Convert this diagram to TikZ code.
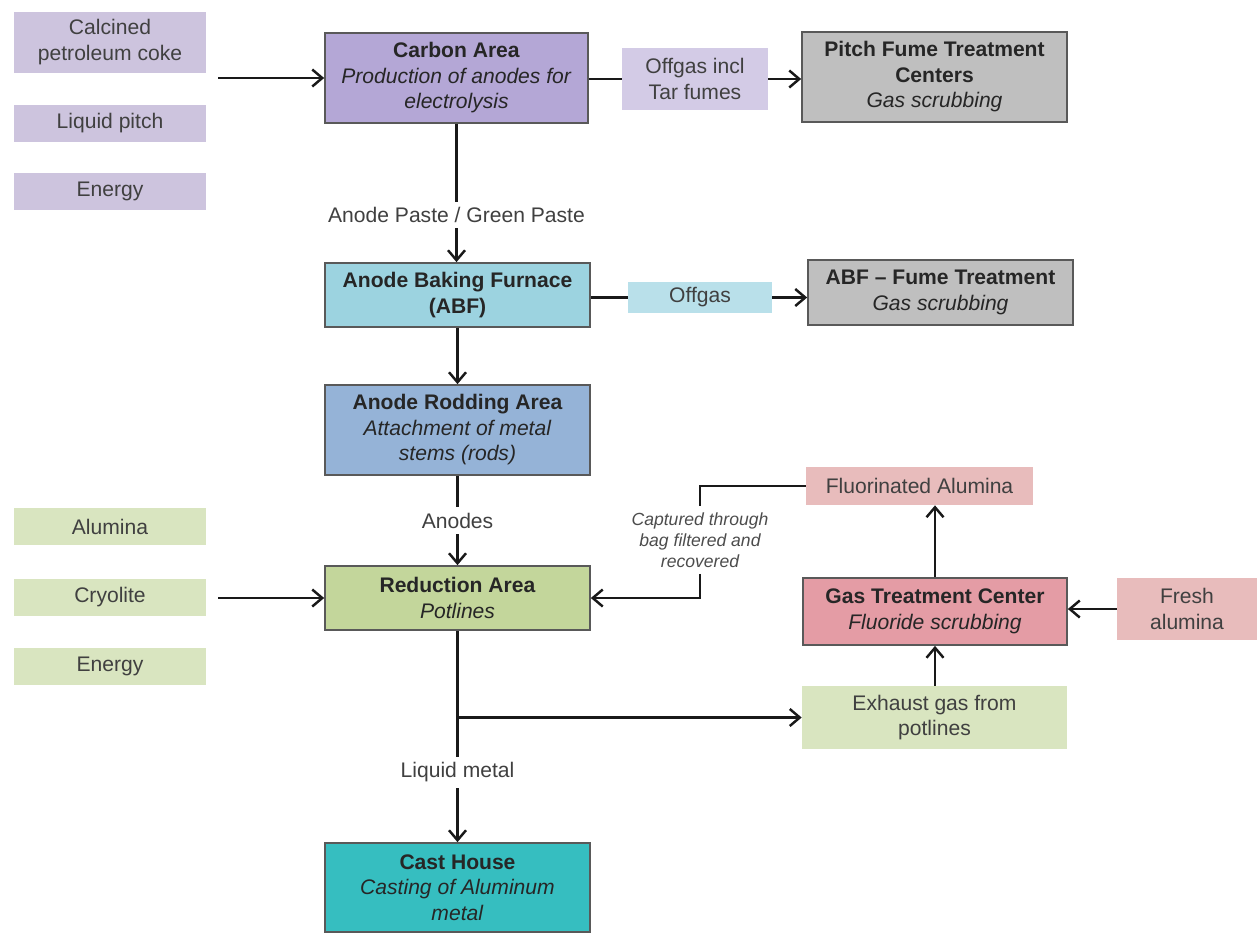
\documentclass[tikz,border=0pt]{standalone}
\usepackage{fontspec}
\setmainfont{Liberation Sans}
\usetikzlibrary{arrows.meta,positioning}
\definecolor{inpurple}{HTML}{CDC4DE}
\definecolor{carbon}{HTML}{B4A7D6}
\definecolor{tarfume}{HTML}{D3CBE6}
\definecolor{scrub}{HTML}{BFBFBF}
\definecolor{baking}{HTML}{9CD3E0}
\definecolor{offgas}{HTML}{B9E0EA}
\definecolor{rodding}{HTML}{95B3D7}
\definecolor{reduct}{HTML}{C3D69B}
\definecolor{ingreen}{HTML}{D9E5C0}
\definecolor{fluor}{HTML}{E8BCBC}
\definecolor{gastreat}{HTML}{E49CA5}
\definecolor{casting}{HTML}{36BEC0}

\begin{document}
\begin{tikzpicture}[x=0.02cm,y=-0.02cm,
  every node/.style={font=\fontsize{12}{14.5}\selectfont},
  box/.style={draw=black!65,line width=1pt,minimum width=5.3cm,align=center,text=black!85},
  inp/.style={minimum width=3.84cm,minimum height=0.74cm,align=center,text=black!75},
  lbl/.style={fill=white,text=black!75,inner sep=3pt},
  arr/.style={-{Straight Barb[length=2mm,width=3.4mm]},line width=1.4pt,draw=black!90},
  ln/.style={line width=1.4pt,draw=black!90},
]
  \useasboundingbox (0,0) rectangle (1257,934);

  \node[inp,fill=inpurple,minimum height=1.22cm] (coke) at (110,42) {Calcined\\petroleum coke};
  \node[inp,fill=inpurple] (pitch) at (110,123.5) {Liquid pitch};
  \node[inp,fill=inpurple] (energyA) at (110,191.5) {Energy};
  \node[inp,fill=ingreen] (alumina) at (110,526.5) {Alumina};
  \node[inp,fill=ingreen] (cryolite) at (110,597) {Cryolite};
  \node[inp,fill=ingreen] (energyB) at (110,666) {Energy};

  \node[box,fill=carbon,minimum width=5.26cm,minimum height=1.8cm] (carbon) at (456.5,78) {\textbf{Carbon Area}\\\textit{Production of anodes for}\\\textit{electrolysis}};
  \node[box,fill=baking,minimum height=1.28cm] (abf) at (457.5,295) {\textbf{Anode Baking Furnace}\\\textbf{(ABF)}};
  \node[box,fill=rodding,minimum height=1.8cm] (rodding) at (457.5,430) {\textbf{Anode Rodding Area}\\\textit{Attachment of metal}\\\textit{stems (rods)}};
  \node[box,fill=reduct,minimum height=1.28cm] (reduction) at (457.5,598) {\textbf{Reduction Area}\\\textit{Potlines}};
  \node[box,fill=casting,minimum height=1.78cm] (cast) at (457.5,887.5) {\textbf{Cast House}\\\textit{Casting of Aluminum}\\\textit{metal}};

  \node[inp,fill=tarfume,minimum width=2.92cm,minimum height=1.24cm] (tarfumes) at (695,79) {Offgas incl\\Tar fumes};
  \node[box,fill=scrub,minimum height=1.8cm] (pitchfume) at (934.5,77) {\textbf{Pitch Fume Treatment}\\\textbf{Centers}\\\textit{Gas scrubbing}};
  \node[inp,fill=offgas,minimum width=2.88cm,minimum height=0.62cm] (offgas) at (700,297.5) {Offgas};
  \node[box,fill=scrub,minimum height=1.3cm] (abffume) at (940.5,292.5) {\textbf{ABF -- Fume Treatment}\\\textit{Gas scrubbing}};

  \node[inp,fill=fluor,minimum width=4.54cm,minimum height=0.76cm] (fluor) at (919.5,486) {Fluorinated Alumina};
  \node[box,fill=gastreat,minimum width=5.28cm,minimum height=1.34cm] (gtc) at (935,611.5) {\textbf{Gas Treatment Center}\\\textit{Fluoride scrubbing}};
  \node[inp,fill=fluor,minimum width=2.8cm,minimum height=1.24cm] (fresh) at (1187,609) {Fresh\\alumina};
  \node[inp,fill=ingreen,minimum width=5.3cm,minimum height=1.26cm] (exhaust) at (934.5,717.5) {Exhaust gas from\\potlines};
  \node[font=\itshape\fontsize{10}{12}\selectfont,text=black!70,align=center] (captured) at (700,540) {Captured through\\bag filtered and\\recovered};

  \coordinate (inC) at (218,78);
  \coordinate (inR) at (218,598);
  \coordinate (split) at (reduction.south |- exhaust.west);

  \draw[arr] (inC) -- (carbon.west |- inC);
  \draw[arr] (inR) -- (reduction.west |- inR);
  \draw[ln] (carbon.east |- tarfumes.west) -- (tarfumes.west);
  \draw[arr] (tarfumes.east) -- (pitchfume.west |- tarfumes.east);
  \draw[ln] (abf.east |- offgas.west) -- (offgas.west);
  \draw[arr] (offgas.east) -- (abffume.west |- offgas.east);
  \draw[arr] (carbon.south) -- node[lbl,pos=0.66]{Anode Paste / Green Paste} (carbon.south |- abf.north);
  \draw[arr] (abf.south) -- (rodding.north);
  \draw[arr] (rodding.south) -- node[lbl]{Anodes} (reduction.north);
  \draw[arr] (reduction.south) -- node[lbl,pos=0.67]{Liquid metal} (cast.north);
  \draw[arr] (split) -- (exhaust.west);
  \draw[arr] (exhaust.north -| gtc.north) -- (gtc.south);
  \draw[arr] (gtc.north) -- (gtc.north |- fluor.south);
  \draw[arr] (fresh.west) -- (fresh.west -| gtc.east);
  \draw[ln] (fluor.west) -| (captured.north);
  \draw[arr] (captured.south) |- (reduction.east);
\end{tikzpicture}
\end{document}
